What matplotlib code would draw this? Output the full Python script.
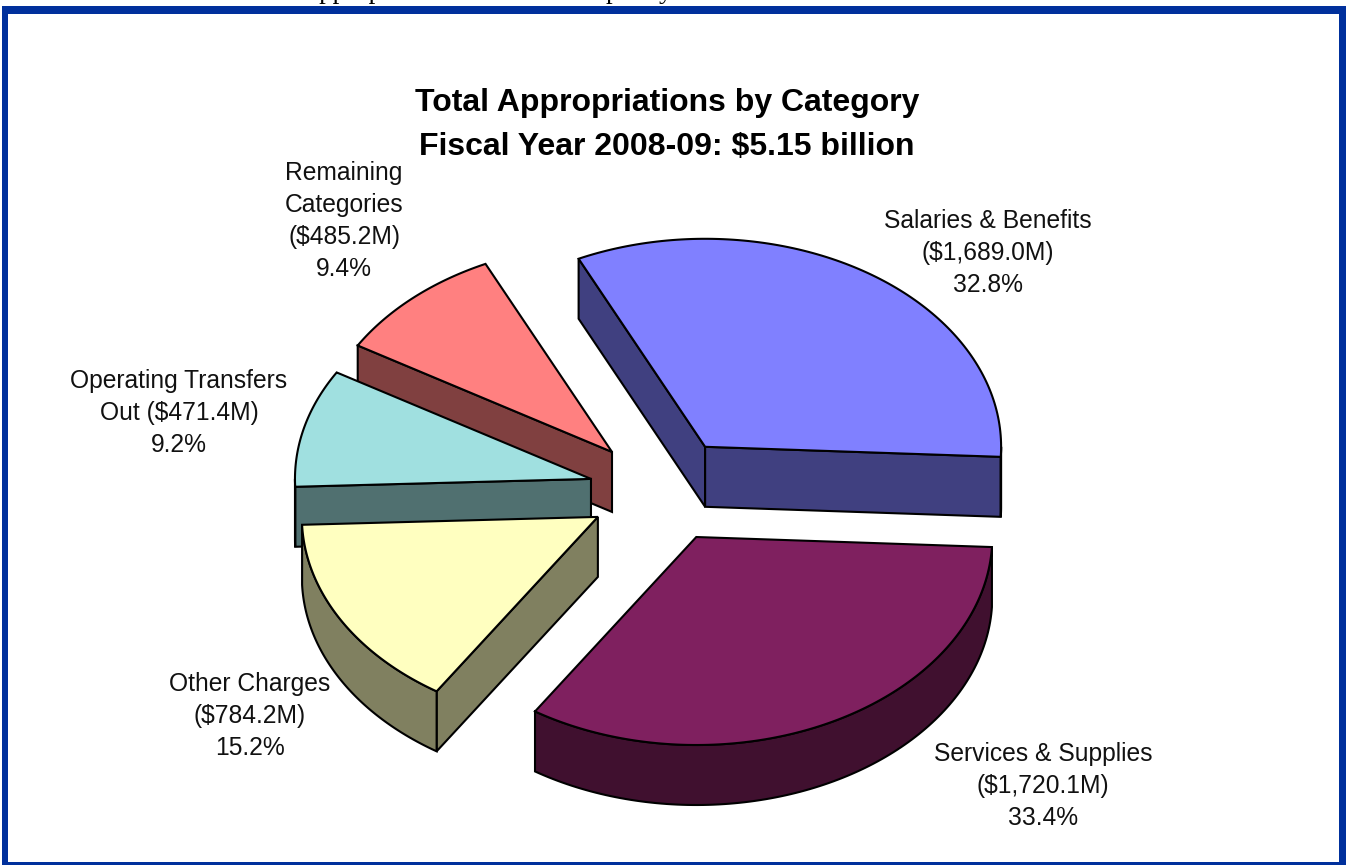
import matplotlib
matplotlib.use('Agg')
import matplotlib.pyplot as plt
import numpy as np
from matplotlib.patches import Polygon, Rectangle

# appropriations in millions, clockwise from the top
categories = ['Salaries & Benefits', 'Services & Supplies', 'Other Charges',
              'Operating Transfers Out', 'Remaining Categories']
amounts = [1689.0, 1720.1, 784.2, 471.4, 485.2]

title_lines = ['Total Appropriations by Category', 'Fiscal Year 2008-09: $5.15 billion']
label_names = ['Salaries & Benefits\n', 'Services & Supplies\n', 'Other Charges\n',
               'Operating Transfers\nOut ', 'Remaining\nCategories\n']

top_colors = ['#8080ff', '#7f205f', '#ffffc0', '#a0e0e0', '#ff8080']
side_colors = ['#404080', '#40102f', '#808060', '#507070', '#804040']

# pie geometry, in pixels
CX, CY = 655.8, 493.5
RX, RY = 296, 208
DEPTH = 60
START = 115.3
explode_x = [0.30, 0.30, 0.225, 0.226, 0.22]
explode_y = [0.27, 0.235, 0.228, 0.284, 0.27]
label_pos = [(988, 253), (1043, 786), (250, 716), (179, 413), (344, 221)]
draw_order = [0, 4, 3, 2, 1]
LINE = 1.5
BLUE = '#00309c'


def arc(cx, cy, t1, t2, n=120):
    t = np.radians(np.linspace(t1, t2, n))
    return np.column_stack([cx + RX * np.cos(t), cy - RY * np.sin(t)])


def side_quad(ax, pts, color):
    # extrude a run of top-edge points straight down
    low = pts[::-1] + [0, DEPTH]
    ax.add_patch(Polygon(np.vstack([pts, low]), closed=True, fc=color, ec='black',
                         lw=LINE, joinstyle='miter'))


def draw_slice(ax, t1, t2, ex, ey, top, side):
    mid = np.radians((t1 + t2) / 2)
    cx = CX + ex * RX * np.cos(mid)
    cy = CY - ey * RY * np.sin(mid)
    apex = np.array([[cx, cy]])
    a = arc(cx, cy, t1, t1, 1)
    b = arc(cx, cy, t2, t2, 1)

    # only the faces turned towards the viewer get drawn
    if np.cos(np.radians(t1)) < 0:
        side_quad(ax, np.vstack([a, apex]), side)
    if np.cos(np.radians(t2)) > 0:
        side_quad(ax, np.vstack([apex, b]), side)

    # rim is visible on the lower half of the ellipse only
    for lo, hi in [(-180, 0), (-540, -360), (180, 360)]:
        r1, r2 = min(t1, hi), max(t2, lo)
        if r1 > r2:
            side_quad(ax, arc(cx, cy, r1, r2), side)

    ax.add_patch(Polygon(np.vstack([apex, arc(cx, cy, t1, t2)]), closed=True, fc=top,
                         ec='black', lw=LINE, joinstyle='miter'))


def main():
    plt.rcParams['font.family'] = ['Liberation Sans', 'DejaVu Sans']

    fig = plt.figure(figsize=(13.46, 8.65), dpi=100)
    ax = fig.add_axes([0, 0, 1, 1])
    ax.set_xlim(0, 1346)
    ax.set_ylim(865, 0)
    ax.axis('off')

    # tail of the page text running above the frame
    ax.text(307, -2, 'appropriations', family='Liberation Serif', fontsize=19.5,
            ha='left', va='baseline', clip_on=False)
    ax.text(606, -2, 'policy', family='Liberation Serif', fontsize=19.5,
            ha='left', va='baseline', clip_on=False)

    # blue frame
    ax.add_patch(Rectangle((2, 6), 1344, 859, fc=BLUE, ec='none'))
    ax.add_patch(Rectangle((8, 14), 1331, 848, fc='white', ec='none'))

    total = sum(amounts)
    shares = [v / total for v in amounts]
    ends = START - 360 * np.cumsum(shares)
    starts = np.concatenate([[START], ends[:-1]])

    for i in draw_order:
        draw_slice(ax, starts[i], ends[i], explode_x[i], explode_y[i],
                   top_colors[i], side_colors[i])

    for y, line in zip([103, 147], title_lines):
        ax.text(667, y, line, fontsize=23, fontweight='bold', ha='center', va='center')

    for i in range(len(amounts)):
        s = f'{label_names[i]}(${amounts[i]:,.1f}M)\n{shares[i] * 100:.1f}%'
        ax.text(label_pos[i][0], label_pos[i][1], s, fontsize=17.7, ha='center', va='center',
                linespacing=1.41, color='#111111')

    fig.savefig('out.png', dpi=100)


if __name__ == "__main__":
    main()
